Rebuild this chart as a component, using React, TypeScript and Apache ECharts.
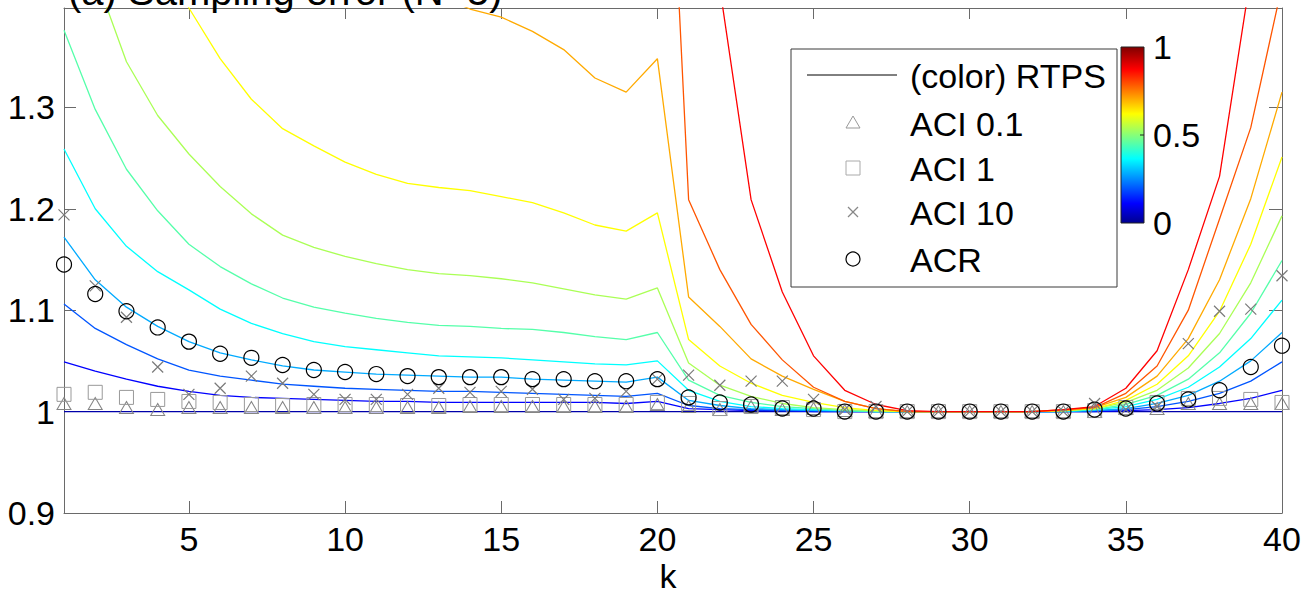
import React, { useEffect, useRef } from "react";
import * as echarts from "echarts";

// ---------- data ----------
const K = [1, 2, 3, 4, 5, 6, 7, 8, 9, 10, 11, 12, 13, 14, 15, 16, 17, 18, 19, 20, 21, 22, 23, 24, 25, 26, 27, 28, 29, 30, 31, 32, 33, 34, 35, 36, 37, 38, 39, 40];
const X_TICKS = [5, 10, 15, 20, 25, 30, 35, 40];
const Y_TICKS = [0.9, 1, 1.1, 1.2, 1.3];
const COLORBAR_TICKS = ["0", "0.5", "1"];
const LEGEND_LABELS = ["(color) RTPS", "ACI 0.1", "ACI 1", "ACI 10", "ACR"];
const TITLE = "(a) Sampling error (N=5)";
const X_NAME = "k";

// RTPS alpha = 0, 0.1, ..., 1 (jet(11) colours)
const RTPS_COLORS = ["#0000aa", "#0000ff", "#0055ff", "#00aaff", "#00ffff", "#55ffaa", "#aaff55", "#ffff00", "#ffaa00", "#ff5500", "#ff0000"];
const RTPS_0 = [1, 1, 1, 1, 1, 1, 1, 1, 1, 1, 1, 1, 1, 1, 1, 1, 1, 1, 1, 1, 1, 1, 1, 1, 1, 1, 1, 1, 1, 1, 1, 1, 1, 1, 1, 1, 1, 1, 1, 1];
const RTPS_1 = [1.049, 1.040, 1.032, 1.025, 1.020, 1.016, 1.014, 1.013, 1.012, 1.011, 1.010, 1.010, 1.009, 1.009, 1.009, 1.009, 1.009, 1.009, 1.008, 1.010, 1.003, 1.002, 1.001, 1.001, 1.0, 1.0, 1.0, 1.0, 1.0, 1.0, 1.0, 1.0, 1.0, 1.0, 1.001, 1.002, 1.004, 1.008, 1.013, 1.021];
const RTPS_2 = [1.106, 1.082, 1.066, 1.052, 1.041, 1.035, 1.031, 1.027, 1.025, 1.023, 1.022, 1.021, 1.020, 1.020, 1.019, 1.018, 1.017, 1.016, 1.015, 1.018, 1.006, 1.003, 1.002, 1.001, 1.001, 1.0, 1.0, 1.0, 1.0, 1.0, 1.0, 1.0, 1.0, 1.001, 1.002, 1.005, 1.010, 1.018, 1.030, 1.049];
const RTPS_3 = [1.172, 1.130, 1.103, 1.084, 1.069, 1.058, 1.051, 1.045, 1.041, 1.039, 1.037, 1.036, 1.035, 1.034, 1.034, 1.032, 1.031, 1.030, 1.029, 1.034, 1.011, 1.006, 1.003, 1.002, 1.001, 1.001, 1.0, 1.0, 1.0, 1.0, 1.0, 1.0, 1.0, 1.001, 1.003, 1.008, 1.016, 1.030, 1.050, 1.078];
const RTPS_4 = [1.259, 1.200, 1.163, 1.138, 1.120, 1.101, 1.087, 1.077, 1.069, 1.064, 1.061, 1.058, 1.055, 1.054, 1.053, 1.051, 1.049, 1.047, 1.046, 1.050, 1.021, 1.010, 1.005, 1.003, 1.002, 1.001, 1.0, 1.0, 1.0, 1.0, 1.0, 1.0, 1.0, 1.002, 1.005, 1.012, 1.024, 1.044, 1.072, 1.110];
const RTPS_5 = [1.376, 1.298, 1.239, 1.198, 1.165, 1.143, 1.126, 1.112, 1.103, 1.097, 1.092, 1.088, 1.085, 1.084, 1.082, 1.081, 1.078, 1.074, 1.071, 1.078, 1.031, 1.016, 1.009, 1.005, 1.003, 1.001, 1.0, 1.0, 1.0, 1.0, 1.0, 1.0, 1.001, 1.002, 1.007, 1.016, 1.032, 1.058, 1.097, 1.149];
const RTPS_6 = [1.560, 1.430, 1.345, 1.292, 1.254, 1.222, 1.195, 1.174, 1.162, 1.153, 1.146, 1.140, 1.136, 1.134, 1.131, 1.127, 1.121, 1.115, 1.111, 1.122, 1.048, 1.026, 1.015, 1.008, 1.004, 1.002, 1.001, 1.0, 1.0, 1.0, 1.0, 1.0, 1.001, 1.003, 1.009, 1.021, 1.043, 1.077, 1.127, 1.193];
const RTPS_7 = [1.900, 1.700, 1.570, 1.470, 1.398, 1.348, 1.308, 1.279, 1.262, 1.246, 1.234, 1.225, 1.221, 1.218, 1.212, 1.206, 1.196, 1.184, 1.178, 1.196, 1.071, 1.045, 1.028, 1.016, 1.009, 1.004, 1.001, 1.0, 1.0, 1.0, 1.0, 1.0, 1.001, 1.003, 1.011, 1.027, 1.055, 1.099, 1.165, 1.251];
const RTPS_8 = [2.900, 2.400, 2.100, 1.900, 1.780, 1.680, 1.600, 1.540, 1.500, 1.470, 1.450, 1.430, 1.410, 1.397, 1.389, 1.375, 1.357, 1.329, 1.315, 1.348, 1.113, 1.084, 1.052, 1.035, 1.022, 1.010, 1.003, 1.0, 1.0, 1.0, 1.0, 1.0, 1.001, 1.004, 1.014, 1.035, 1.072, 1.130, 1.210, 1.315];
const RTPS_9 = [4.0, 3.4, 3.0, 2.7, 2.5, 2.35, 2.25, 2.15, 2.08, 2.02, 1.98, 1.94, 1.91, 1.88, 1.86, 1.84, 1.82, 1.80, 1.79, 1.84, 1.209, 1.140, 1.086, 1.051, 1.024, 1.010, 1.003, 1.0, 1.0, 1.0, 1.0, 1.0, 1.002, 1.004, 1.018, 1.045, 1.100, 1.190, 1.280, 1.420];
const RTPS_10 = [6.0, 5.0, 4.4, 4.0, 3.7, 3.5, 3.35, 3.2, 3.1, 3.0, 2.95, 2.9, 2.85, 2.8, 2.76, 2.72, 2.68, 2.64, 2.6, 2.7, 2.0, 1.418, 1.209, 1.118, 1.055, 1.021, 1.007, 1.001, 1.0, 1.0, 1.0, 1.0, 1.002, 1.005, 1.023, 1.060, 1.140, 1.232, 1.430, 1.900];
const RTPS = [RTPS_0, RTPS_1, RTPS_2, RTPS_3, RTPS_4, RTPS_5, RTPS_6, RTPS_7, RTPS_8, RTPS_9, RTPS_10];

const ACI_01 = [1.008, 1.008, 1.004, 1.002, 1.004, 1.004, 1.004, 1.004, 1.004, 1.004, 1.004, 1.004, 1.004, 1.005, 1.005, 1.005, 1.005, 1.005, 1.005, 1.007, 1.005, 1.002, 1.005, 1.002, 1.003, 1.001, 1.0, 1.0, 1.0, 1.0, 1.0, 1.0, 1.0, 1.0, 1.003, 1.003, 1.008, 1.008, 1.008, 1.008];
const ACI_1 = [1.017, 1.019, 1.014, 1.012, 1.010, 1.009, 1.007, 1.006, 1.007, 1.007, 1.007, 1.006, 1.006, 1.007, 1.007, 1.007, 1.007, 1.007, 1.007, 1.009, 1.008, 1.003, 1.005, 1.004, 1.002, 1.0, 1.0, 1.0, 1.0, 1.0, 1.0, 1.0, 1.0, 1.001, 1.004, 1.009, 1.013, 1.013, 1.012, 1.009];
const ACI_10 = [1.194, 1.124, 1.093, 1.044, 1.017, 1.023, 1.035, 1.028, 1.017, 1.012, 1.012, 1.017, 1.023, 1.019, 1.020, 1.022, 1.012, 1.013, 1.020, 1.032, 1.036, 1.026, 1.030, 1.030, 1.012, 1.002, 1.005, 1.0, 1.0, 1.0, 1.0, 1.0, 1.0, 1.008, 1.002, 1.005, 1.067, 1.099, 1.101, 1.134];
const ACR = [1.145, 1.116, 1.099, 1.083, 1.069, 1.057, 1.053, 1.046, 1.041, 1.039, 1.037, 1.035, 1.034, 1.034, 1.034, 1.032, 1.032, 1.030, 1.030, 1.032, 1.014, 1.009, 1.007, 1.003, 1.003, 1.0, 1.0, 1.0, 1.0, 1.0, 1.0, 1.0, 1.0, 1.002, 1.003, 1.008, 1.012, 1.021, 1.044, 1.065];

// ---------- style ----------
const FONT = "'Liberation Sans', Arial, Helvetica, sans-serif";
const AXIS_COLOR = "#6a6a6a";
const MARKER_GRAY = "#858585";
const FS = 34;

const pairs = (arr: number[]) => K.map((k, i) => [k, arr[i]]);
const near = (v: number, list: number[]) => list.some((t) => Math.abs(t - v) < 1e-6);

export default function App() {
  const ref = useRef<HTMLDivElement>(null);

  useEffect(() => {
    const chart = echarts.init(ref.current!, null, { renderer: "svg" });

    const lineSeries = RTPS.map((arr, i) => ({
      type: "line",
      name: "RTPS " + i,
      data: pairs(arr),
      symbol: "none",
      showSymbol: false,
      clip: true,
      silent: true,
      z: 2,
      lineStyle: { color: RTPS_COLORS[i], width: 1.3 },
      emphasis: { disabled: true },
    }));

    const scatter = (name: string, arr: number[], symbol: string, size: any, color: string, bw: number) => ({
      type: "scatter",
      name,
      data: pairs(arr),
      symbol,
      symbolSize: size,
      silent: true,
      clip: true,
      z: 3,
      itemStyle: { color: "rgba(0,0,0,0)", borderColor: color, borderWidth: bw, opacity: 1 },
      emphasis: { disabled: true },
    });

    const jet = new echarts.graphic.LinearGradient(0, 1, 0, 0, [
      { offset: 0, color: "#00008f" },
      { offset: 0.111, color: "#0000ff" },
      { offset: 0.365, color: "#00ffff" },
      { offset: 0.62, color: "#ffff00" },
      { offset: 0.873, color: "#ff0000" },
      { offset: 1, color: "#800000" },
    ]);

    const legendRows = [75, 123, 168, 212, 259];
    const mx = 853;

    const option: any = {
      animation: false,
      backgroundColor: "#ffffff",
      grid: { left: 64, right: 22, top: 8, bottom: 81, containLabel: false, outerBoundsMode: "none" },
      xAxis: [
        {
          type: "value",
          min: 1,
          max: 40,
          splitNumber: 8,
          minInterval: 5,
          maxInterval: 5,
          position: "bottom",
          axisLine: { show: true, onZero: false, lineStyle: { color: AXIS_COLOR, width: 1 } },
          axisTick: { show: true, inside: true, length: 12, lineStyle: { color: AXIS_COLOR } },
          axisLabel: {
            show: true,
            margin: 9,
            color: "#000",
            fontFamily: FONT,
            fontSize: FS,
            showMinLabel: false,
            formatter: (v: number) => (near(v, X_TICKS) ? String(Math.round(v)) : ""),
          },
          splitLine: { show: false },
        },
        {
          type: "value",
          min: 1,
          max: 40,
          splitNumber: 8,
          minInterval: 5,
          maxInterval: 5,
          position: "top",
          axisLine: { show: true, onZero: false, lineStyle: { color: AXIS_COLOR, width: 1 } },
          axisTick: { show: true, inside: true, length: 11, lineStyle: { color: AXIS_COLOR } },
          axisLabel: { show: false },
          splitLine: { show: false },
        },
      ],
      yAxis: [
        {
          type: "value",
          min: 0.9,
          max: 1.398,
          interval: 0.1,
          position: "left",
          axisLine: { show: true, onZero: false, lineStyle: { color: AXIS_COLOR, width: 1 } },
          axisTick: { show: true, inside: true, length: 12, lineStyle: { color: AXIS_COLOR } },
          axisLabel: {
            show: true,
            margin: 9,
            color: "#000",
            fontFamily: FONT,
            fontSize: FS,
            showMaxLabel: false,
            formatter: (v: number) => (near(v, Y_TICKS) ? String(Math.round(v * 10) / 10) : ""),
          },
          splitLine: { show: false },
        },
        {
          type: "value",
          min: 0.9,
          max: 1.398,
          interval: 0.1,
          position: "right",
          axisLine: { show: true, onZero: false, lineStyle: { color: AXIS_COLOR, width: 1 } },
          axisTick: { show: true, inside: true, length: 13, lineStyle: { color: AXIS_COLOR } },
          axisLabel: { show: false },
          splitLine: { show: false },
        },
      ],
      series: [
        ...lineSeries,
        scatter("ACI 0.1", ACI_01, "triangle", [14, 12], MARKER_GRAY, 1),
        scatter("ACI 1", ACI_1, "rect", 14, "#999999", 1),
        scatter("ACI 10", ACI_10, "path://M0,0L10,10M10,0L0,10", 11, "#7a7a7a", 1.2),
        scatter("ACR", ACR, "circle", 15, "#000000", 1.2),
      ],
      graphic: [
        {
          type: "text",
          z: 100,
          x: 68,
          y: -9,
          style: { text: TITLE, fill: "#000", font: `40px ${FONT}`, align: "left", verticalAlign: "middle" },
        },
        {
          type: "text",
          z: 100,
          x: 668,
          y: 576,
          style: { text: X_NAME, fill: "#000", font: `${FS}px ${FONT}`, align: "center", verticalAlign: "middle" },
        },
        // legend box
        {
          type: "rect",
          z: 100,
          shape: { x: 791, y: 49, width: 326, height: 238 },
          style: { fill: "#ffffff", stroke: "#3a3a3a", lineWidth: 1 },
        },
        {
          type: "line",
          z: 101,
          shape: { x1: 807, y1: legendRows[0], x2: 897, y2: legendRows[0] },
          style: { stroke: "#000", lineWidth: 1 },
        },
        {
          type: "polygon",
          z: 101,
          shape: { points: [[mx, legendRows[1] - 7], [mx - 7, legendRows[1] + 5], [mx + 7, legendRows[1] + 5]] },
          style: { fill: "none", stroke: "#999", lineWidth: 1 },
        },
        {
          type: "rect",
          z: 101,
          shape: { x: mx - 7, y: legendRows[2] - 7, width: 14, height: 14 },
          style: { fill: "none", stroke: "#aaa", lineWidth: 1 },
        },
        {
          type: "line",
          z: 101,
          shape: { x1: mx - 5, y1: legendRows[3] - 5, x2: mx + 5, y2: legendRows[3] + 5 },
          style: { stroke: "#888", lineWidth: 1.2 },
        },
        {
          type: "line",
          z: 101,
          shape: { x1: mx + 5, y1: legendRows[3] - 5, x2: mx - 5, y2: legendRows[3] + 5 },
          style: { stroke: "#888", lineWidth: 1.2 },
        },
        {
          type: "circle",
          z: 101,
          shape: { cx: mx, cy: legendRows[4], r: 7 },
          style: { fill: "none", stroke: "#000", lineWidth: 1.2 },
        },
        ...LEGEND_LABELS.map((t, i) => ({
          type: "text",
          z: 101,
          x: 910,
          y: legendRows[i] + 1,
          style: { text: t, fill: "#000", font: `${FS}px ${FONT}`, align: "left", verticalAlign: "middle" },
        })),
        // colorbar
        {
          type: "rect",
          z: 100,
          shape: { x: 1121, y: 47, width: 23, height: 176 },
          style: { fill: jet, stroke: "#222", lineWidth: 1 },
        },
        {
          type: "line",
          z: 101,
          shape: { x1: 1140, y1: 135, x2: 1144, y2: 135 },
          style: { stroke: "#222", lineWidth: 1 },
        },
        ...COLORBAR_TICKS.map((t, i) => ({
          type: "text",
          z: 101,
          x: 1153,
          y: 223 - i * 88,
          style: { text: t, fill: "#000", font: `${FS}px ${FONT}`, align: "left", verticalAlign: "middle" },
        })),
      ],
    };

    chart.setOption(option);
    return () => chart.dispose();
  }, []);

  return (
    <div
      ref={ref}
      style={{ position: "fixed", left: 0, top: 0, width: 1304, height: 594, background: "#fff" }}
    />
  );
}
